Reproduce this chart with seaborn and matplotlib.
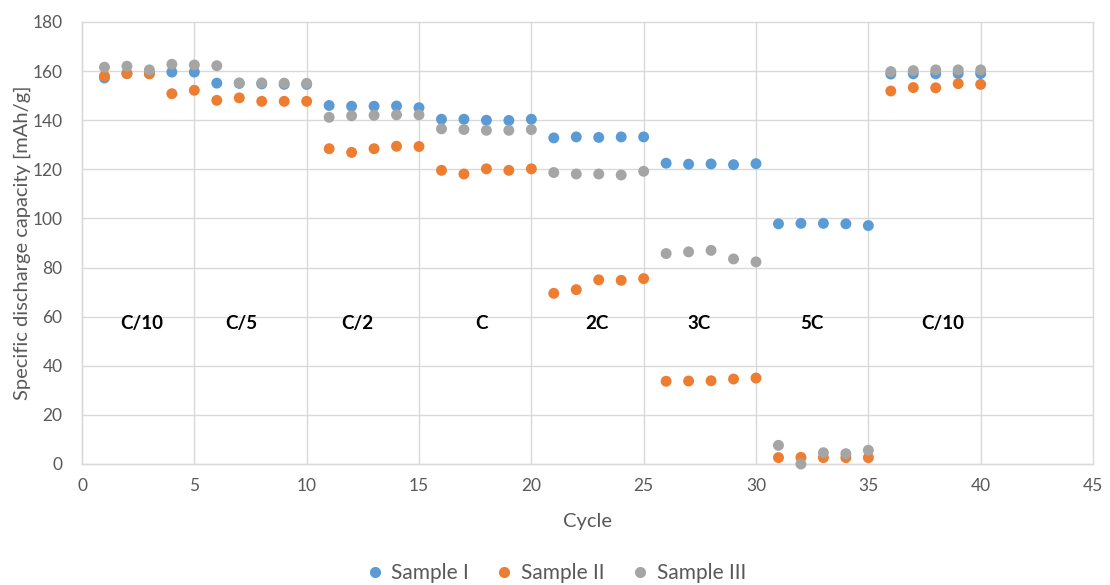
import numpy as np
import pandas as pd
import matplotlib
matplotlib.use("Agg")
import matplotlib.pyplot as plt
import seaborn as sns
from matplotlib.lines import Line2D

# Rate-capability test: specific discharge capacity per cycle for three samples
cycles = list(range(1, 41))

sample_1 = [157.2, 159.0, 159.0, 159.6, 159.6, 155.1, 155.0, 154.8, 154.6, 154.6,
            146.0, 145.7, 145.7, 145.8, 145.1, 140.4, 140.4, 140.0, 139.9, 140.4,
            132.8, 133.2, 133.0, 133.2, 133.2, 122.5, 122.1, 122.2, 121.9, 122.3,
            97.8, 98.0, 98.0, 97.8, 97.1, 158.8, 158.9, 158.9, 159.0, 159.0]

sample_2 = [158.0, 159.0, 158.9, 150.8, 152.2, 148.1, 149.1, 147.7, 147.7, 147.7,
            128.4, 126.9, 128.4, 129.4, 129.3, 119.6, 118.1, 120.2, 119.6, 120.2,
            69.5, 71.0, 75.0, 74.8, 75.5, 33.7, 33.8, 33.9, 34.6, 35.0,
            2.6, 2.7, 2.6, 2.6, 2.6, 151.9, 153.3, 153.2, 154.9, 154.6]

sample_3 = [161.6, 162.0, 160.5, 162.8, 162.5, 162.2, 155.2, 155.2, 155.1, 155.0,
            141.2, 141.8, 142.0, 142.2, 142.2, 136.5, 136.2, 135.9, 135.9, 136.2,
            118.7, 118.1, 118.1, 117.7, 119.2, 85.7, 86.4, 87.0, 83.5, 82.3,
            7.6, 0.0, 4.6, 4.2, 5.6, 159.8, 160.2, 160.5, 160.5, 160.5]

sample_names = ["Sample I", "Sample II", "Sample III"]
colors = ["#5B9BD5", "#ED7D31", "#A5A5A5"]

# C-rate annotations (x position, label)
rate_x = [2.65, 7.1, 12.24, 17.78, 22.94, 27.48, 32.48, 38.33]
rate_labels = ["C/10", "C/5", "C/2", "C", "2C", "3C", "5C", "C/10"]
rate_y = 57.4

df = pd.concat([
    pd.DataFrame({"Cycle": cycles, "Capacity": vals, "Sample": name})
    for name, vals in zip(sample_names, [sample_1, sample_2, sample_3])
], ignore_index=True)

sns.set_theme(style="white")
plt.rcParams["font.family"] = ["Lato", "DejaVu Sans"]

text_gray = "#595959"
grid_gray = "#D9D9D9"

fig = plt.figure(figsize=(11.1, 5.85), dpi=100)
ax = fig.add_axes([82 / 1110, 121 / 585, (1093 - 82) / 1110, (464 - 22) / 585])

sns.scatterplot(data=df, x="Cycle", y="Capacity", hue="Sample",
                palette=colors, hue_order=sample_names, s=62,
                linewidth=0, edgecolor="none", legend=False, ax=ax,
                zorder=3, clip_on=False)

ax.set_xlim(0, 45)
ax.set_ylim(0, 180)
ax.set_xticks(np.arange(0, 46, 5))
ax.set_yticks(np.arange(0, 181, 20))
ax.grid(True, color=grid_gray, linewidth=1.0, zorder=0, clip_on=False)
ax.set_axisbelow(True)
for side in ["top", "right"]:
    ax.spines[side].set_visible(False)
for side in ["left", "bottom"]:
    ax.spines[side].set_color(grid_gray)
    ax.spines[side].set_linewidth(1.0)

ax.tick_params(axis="both", length=0, labelsize=12.5, colors=text_gray)
ax.tick_params(axis="y", pad=14)
ax.tick_params(axis="x", pad=10)

ax.set_xlabel("Cycle", fontsize=14.5, color=text_gray, labelpad=14)
ax.set_ylabel("Specific discharge capacity [mAh/g]", fontsize=14.5,
              color=text_gray, labelpad=1)

for xv, lab in zip(rate_x, rate_labels):
    ax.text(xv, rate_y, lab, ha="center", va="center", fontsize=13.5,
            fontweight="bold", color="black", zorder=4)

handles = [Line2D([0], [0], marker="o", linestyle="", markersize=7,
                  markerfacecolor=c, markeredgecolor=c) for c in colors]
fig.legend(handles, sample_names, loc="center", bbox_to_anchor=(0.5, 0.02),
           ncol=3, frameon=False, fontsize=15, labelcolor=text_gray,
           handletextpad=0.3, columnspacing=1.2, handlelength=1.0)

fig.savefig("out.png", dpi=100)
